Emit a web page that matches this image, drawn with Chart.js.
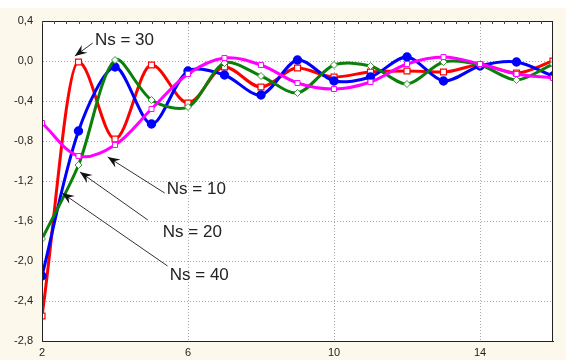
<!DOCTYPE html>
<html>
<head>
<meta charset="utf-8">
<script src="https://cdn.jsdelivr.net/npm/chart.js@4"></script>
<style>
  html, body { margin:0; padding:0; background:#fdf8ec; }
  #wrap { width:566px; height:360px; }
</style>
</head>
<body>
<div id="wrap"><canvas id="chart" width="566" height="360"></canvas></div>
<script>
// x positions of samples
const xs = [2, 3, 4, 5, 6, 7, 8, 9, 10, 11, 12, 13, 14, 15, 16];

// series
const ns30 = [-2.55, -0.01, -0.78, -0.04, -0.42, -0.06, -0.26, -0.07, -0.16, -0.11, -0.10, -0.11, -0.04, -0.12, 0.00];
const ns40 = [-2.15, -0.70, -0.06, -0.63, -0.10, -0.14, -0.34, 0.01, -0.20, -0.16, 0.04, -0.20, -0.05, -0.01, -0.15];
const ns20 = [-1.78, -1.04, 0.01, -0.39, -0.46, -0.02, -0.15, -0.32, -0.04, -0.05, -0.23, -0.01, -0.04, -0.19, -0.03];
const ns10 = [-0.62, -0.95, -0.84, -0.48, -0.13, 0.03, -0.04, -0.22, -0.28, -0.21, -0.03, 0.04, -0.03, -0.13, -0.17];

const xTicks = [2, 6, 10, 14];
const yTicks = [0.4, 0.0, -0.4, -0.8, -1.2, -1.6, -2.0, -2.4, -2.8];

// labels with arrows: [text, textX, textY, tailX, tailY, tipX, tipY] in data units
const notes = [
  ['Ns = 30', 3.45, 0.21, 3.39, 0.18, 2.90, 0.05],
  ['Ns = 10', 5.42, -1.28, 5.36, -1.32, 3.80, -0.96],
  ['Ns = 20', 5.31, -1.71, 4.90, -1.59, 3.04, -1.11],
  ['Ns = 40', 5.50, -2.14, 5.44, -2.05, 2.55, -1.32]
];

function pts(arr) {
  return xs.map((x, i) => ({ x: x, y: arr[i] }));
}

const bgPlugin = {
  id: 'bg',
  beforeDraw(chart) {
    const c = chart.ctx, a = chart.chartArea;
    c.save();
    c.fillStyle = '#fdf8ec';
    c.fillRect(0, 8, chart.width, chart.height - 8);
    c.fillStyle = '#ffffff';
    c.fillRect(0, 0, chart.width, 8);
    c.fillRect(a.left, a.top, a.right - a.left, a.bottom - a.top);
    c.restore();
  },
  afterDatasetsDraw(chart) {
    const c = chart.ctx, a = chart.chartArea;
    const sx = chart.scales.x, sy = chart.scales.y;
    c.save();
    // frame
    c.strokeStyle = '#222';
    c.lineWidth = 1;
    c.strokeRect(a.left + 0.5, a.top + 0.5, a.right - a.left - 1, a.bottom - a.top);
    // small ticks along the top edge
    c.strokeStyle = '#444';
    c.beginPath();
    for (let v = 2; v <= 16; v += 1 / 3) {
      const px = Math.round(sx.getPixelForValue(v)) + 0.5;
      c.moveTo(px, a.top);
      c.lineTo(px, a.top + 3);
    }
    c.stroke();
    // annotations
    c.strokeStyle = '#333';
    c.font = '17px "Liberation Sans", Arial, sans-serif';
    c.textBaseline = 'middle';
    notes.forEach(n => {
      const tx = sx.getPixelForValue(n[1]), ty = sy.getPixelForValue(n[2]);
      const x0 = sx.getPixelForValue(n[3]), y0 = sy.getPixelForValue(n[4]);
      const x1 = sx.getPixelForValue(n[5]), y1 = sy.getPixelForValue(n[6]);
      c.beginPath();
      c.moveTo(x0, y0);
      c.lineTo(x1, y1);
      c.stroke();
      const ang = Math.atan2(y1 - y0, x1 - x0);
      const L = 13, W = 0.38;
      c.beginPath();
      c.moveTo(x1, y1);
      c.lineTo(x1 - L * Math.cos(ang - W), y1 - L * Math.sin(ang - W));
      c.lineTo(x1 - L * 0.6 * Math.cos(ang), y1 - L * 0.6 * Math.sin(ang));
      c.lineTo(x1 - L * Math.cos(ang + W), y1 - L * Math.sin(ang + W));
      c.closePath();
      c.fillStyle = '#111';
      c.fill();
      c.fillStyle = '#222';
      c.fillText(n[0], tx, ty);
    });
    c.restore();
  }
};

const ctx = document.getElementById('chart').getContext('2d');
const chart = new Chart(ctx, {
  type: 'line',
  data: {
    datasets: [
      {
        label: 'Ns = 10', data: pts(ns10), tension: 0.35,
        borderColor: '#ff00ff', borderWidth: 3,
        pointStyle: 'rect', pointRadius: 3.5, pointBorderWidth: 1,
        pointBorderColor: '#ff00ff', pointBackgroundColor: '#ffffff'
      },
      {
        label: 'Ns = 20', data: pts(ns20), tension: 0.3,
        borderColor: '#0a800a', borderWidth: 3,
        pointStyle: 'rectRot', pointRadius: 3.5, pointBorderWidth: 1,
        pointBorderColor: '#3a9a3a', pointBackgroundColor: '#ffffff'
      },
      {
        label: 'Ns = 40', data: pts(ns40), tension: 0.3,
        borderColor: '#0000ff', borderWidth: 3,
        pointStyle: 'circle', pointRadius: 3.2,
        pointBorderColor: '#0000ff', pointBackgroundColor: '#0000ff'
      },
      {
        label: 'Ns = 30', data: pts(ns30), cubicInterpolationMode: 'monotone',
        borderColor: '#ff0000', borderWidth: 3,
        pointStyle: 'rect', pointRadius: 4.2, pointBorderWidth: 1.2,
        pointBorderColor: '#ff0000', pointBackgroundColor: '#ffffff'
      }
    ]
  },
  options: {
    responsive: false,
    animation: false,
    layout: { padding: { top: 21, right: 13, left: 0, bottom: 0 } },
    plugins: { legend: { display: false }, tooltip: { enabled: false } },
    scales: {
      x: {
        type: 'linear', min: 2, max: 16,
        afterBuildTicks(s) { s.ticks = xTicks.map(v => ({ value: v })); },
        afterFit(s) { s.height = 19; },
        grid: { color: '#a8a8a8', lineWidth: 1, drawTicks: false },
        border: { display: true, color: '#222', dash: [1, 2] },
        ticks: {
          color: '#222', padding: 5,
          font: { family: '"Liberation Sans", Arial, sans-serif', size: 11 },
          callback: v => String(v)
        }
      },
      y: {
        min: -2.8, max: 0.4,
        afterBuildTicks(s) { s.ticks = yTicks.map(v => ({ value: v })); },
        afterFit(s) { s.width = 42; },
        grid: { color: '#a8a8a8', lineWidth: 1, drawTicks: false },
        border: { display: true, color: '#222', dash: [1, 2] },
        ticks: {
          color: '#222', padding: 9,
          font: { family: '"Liberation Sans", Arial, sans-serif', size: 11 },
          callback: v => v.toFixed(1).replace('.', ',').replace('-0,0', '0,0')
        }
      }
    }
  },
  plugins: [bgPlugin]
});
</script>
</body>
</html>
